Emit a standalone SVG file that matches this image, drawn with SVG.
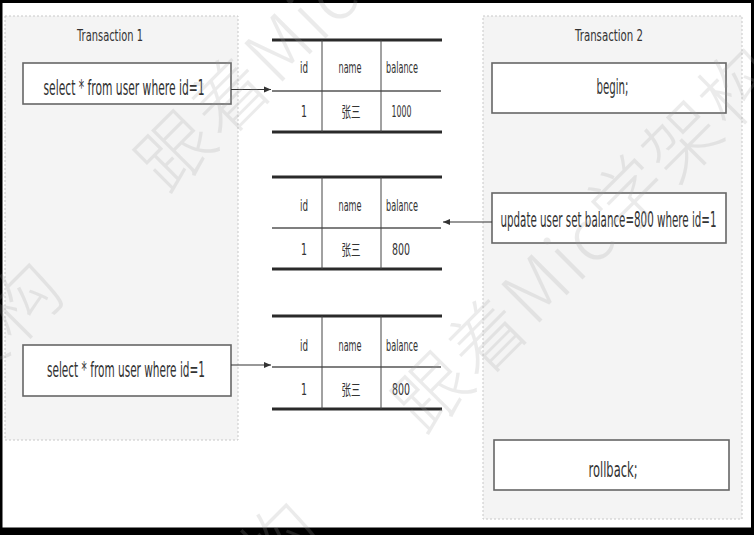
<svg xmlns="http://www.w3.org/2000/svg" width="754" height="535" viewBox="0 0 754 535">
<style>
.panel{fill:#f4f4f4;stroke:#c8c8c8;stroke-width:1;stroke-dasharray:2 2}
.box{fill:#ffffff;stroke:#666666;stroke-width:1.6}
.t{font-family:"DejaVu Sans","Liberation Sans",sans-serif;fill:#333333;text-anchor:middle}
.title{font-size:15.5px}
.big{font-size:22px}
.cell{font-size:15px}
.cjk{font-family:"Noto Sans CJK SC","DejaVu Sans",sans-serif;font-size:15px;fill:#333333;text-anchor:middle}
.thick{stroke:#2a2a2a;stroke-width:2.8}
.thin{stroke:#555555;stroke-width:1.4}
.vert{stroke:#444444;stroke-width:1}
.conn{stroke:#333333;stroke-width:1.1;fill:none}
.wm{font-family:"Noto Sans CJK SC",sans-serif;font-size:74px;font-weight:200;fill:#a0a0a0;opacity:0.2;letter-spacing:3px}
</style>
<defs>
<marker id="arr" markerWidth="8" markerHeight="8" refX="7" refY="4" orient="auto" markerUnits="userSpaceOnUse">
<path d="M0,1 L7,4 L0,7 Z" fill="#333333"/>
</marker>
</defs>
<rect x="0" y="0" width="754" height="535" fill="#000000"/>
<rect x="2.5" y="3" width="748.5" height="524.5" fill="#ffffff"/>

<g id="transaction1">
<rect class="panel" x="5" y="16" width="233" height="424"/>
<text class="t title" x="110" y="40.7" textLength="66" lengthAdjust="spacingAndGlyphs">Transaction  1</text>
</g>
<g id="transaction2">
<rect class="panel" x="483" y="16" width="259" height="503"/>
<text class="t title" x="609" y="40.7" textLength="68" lengthAdjust="spacingAndGlyphs">Transaction  2</text>
</g>

<g id="select1">
<rect class="box" x="23" y="63" width="208" height="41"/>
<text class="t big" x="124" y="95" textLength="161" lengthAdjust="spacingAndGlyphs">select * from user where id=1</text>
</g>
<g id="select2">
<rect class="box" x="23" y="345" width="208" height="51"/>
<text class="t big" x="126" y="377" textLength="158" lengthAdjust="spacingAndGlyphs">select * from user where id=1</text>
</g>
<g id="begin">
<rect class="box" x="492" y="63" width="234" height="50"/>
<text class="t big" x="612.5" y="94.3" textLength="32" lengthAdjust="spacingAndGlyphs">begin;</text>
</g>
<g id="update">
<rect class="box" x="492" y="193" width="234" height="50"/>
<text class="t big" x="608.5" y="226.7" textLength="216" lengthAdjust="spacingAndGlyphs">update user set balance=800 where id=1</text>
</g>
<g id="rollback">
<rect class="box" x="494" y="440" width="235" height="50"/>
<text class="t big" x="613" y="477.3" textLength="49" lengthAdjust="spacingAndGlyphs">rollback;</text>
</g>

<g id="table1">
<line class="thick" x1="272" y1="40" x2="442" y2="40"/>
<line class="thin" x1="272" y1="91" x2="441" y2="91"/>
<line class="thick" x1="272" y1="132" x2="442" y2="132"/>
<line class="vert" x1="322" y1="40" x2="322" y2="132"/>
<line class="vert" x1="381" y1="40" x2="381" y2="132"/>
<text class="t cell" x="304" y="73.3" textLength="8" lengthAdjust="spacingAndGlyphs">id</text>
<text class="t cell" x="350" y="73.3" textLength="23" lengthAdjust="spacingAndGlyphs">name</text>
<text class="t cell" x="402" y="73.3" textLength="32" lengthAdjust="spacingAndGlyphs">balance</text>
<text class="t cell" x="304" y="117.3" textLength="6" lengthAdjust="spacingAndGlyphs">1</text>
<text class="cjk" x="351" y="117.3" textLength="19" lengthAdjust="spacingAndGlyphs">张三</text>
<text class="t cell" x="401.5" y="117.3" textLength="20" lengthAdjust="spacingAndGlyphs">1000</text>
</g>
<g id="table2">
<line class="thick" x1="272" y1="177" x2="442" y2="177"/>
<line class="thin" x1="272" y1="228" x2="441" y2="228"/>
<line class="thick" x1="272" y1="269" x2="442" y2="269"/>
<line class="vert" x1="322" y1="177" x2="322" y2="269"/>
<line class="vert" x1="381" y1="177" x2="381" y2="269"/>
<text class="t cell" x="304" y="210.7" textLength="8" lengthAdjust="spacingAndGlyphs">id</text>
<text class="t cell" x="350" y="210.7" textLength="23" lengthAdjust="spacingAndGlyphs">name</text>
<text class="t cell" x="402" y="210.7" textLength="32" lengthAdjust="spacingAndGlyphs">balance</text>
<text class="t cell" x="304" y="255" textLength="6" lengthAdjust="spacingAndGlyphs">1</text>
<text class="cjk" x="351" y="255" textLength="19" lengthAdjust="spacingAndGlyphs">张三</text>
<text class="t cell" x="401" y="255" textLength="18" lengthAdjust="spacingAndGlyphs">800</text>
</g>
<g id="table3">
<line class="thick" x1="272" y1="316" x2="442" y2="316"/>
<line class="thin" x1="272" y1="367" x2="441" y2="367"/>
<line class="thick" x1="272" y1="409" x2="442" y2="409"/>
<line class="vert" x1="322" y1="316" x2="322" y2="409"/>
<line class="vert" x1="381" y1="316" x2="381" y2="409"/>
<text class="t cell" x="304" y="350.7" textLength="8" lengthAdjust="spacingAndGlyphs">id</text>
<text class="t cell" x="350" y="350.7" textLength="23" lengthAdjust="spacingAndGlyphs">name</text>
<text class="t cell" x="402" y="350.7" textLength="32" lengthAdjust="spacingAndGlyphs">balance</text>
<text class="t cell" x="304" y="395" textLength="6" lengthAdjust="spacingAndGlyphs">1</text>
<text class="cjk" x="351" y="395" textLength="19" lengthAdjust="spacingAndGlyphs">张三</text>
<text class="t cell" x="401" y="395" textLength="18" lengthAdjust="spacingAndGlyphs">800</text>
</g>

<g id="connectors">
<line class="conn" x1="231" y1="89.5" x2="271" y2="89.5" marker-end="url(#arr)"/>
<line class="conn" x1="492" y1="222" x2="443" y2="222" marker-end="url(#arr)"/>
<line class="conn" x1="231" y1="365" x2="271" y2="365" marker-end="url(#arr)"/>
</g>

<g id="watermark">
<text class="wm" x="168" y="196" transform="rotate(-45 168 196)">跟着Mic学架构</text>
<text class="wm" x="70" y="292" text-anchor="end" transform="rotate(-45 70 292)">跟着Mic学架构</text>
<text class="wm" x="425" y="437" transform="rotate(-45 425 437)">跟着Mic学架构</text>
<text class="wm" x="327" y="532" text-anchor="end" transform="rotate(-45 327 532)">跟着Mic学架构</text>
</g>
</svg>
